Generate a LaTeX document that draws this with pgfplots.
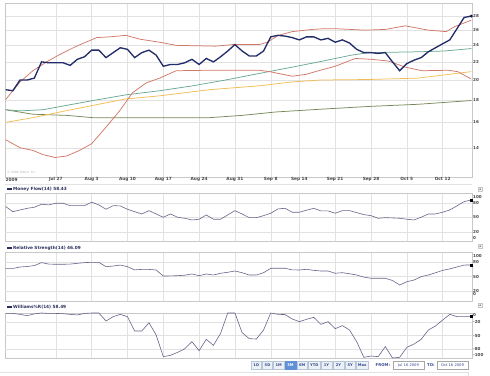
\documentclass[border=0pt]{standalone}
\usepackage{fontspec}
\setmainfont{DejaVu Sans}
\usepackage{pgfplots}
\pgfplotsset{compat=1.18}
\definecolor{gridc}{RGB}{226,226,226}
\definecolor{framec}{RGB}{200,200,200}
\definecolor{labc}{RGB}{70,70,70}
\definecolor{pricec}{RGB}{35,45,105}
\definecolor{bandc}{RGB}{210,120,105}
\definecolor{tealc}{RGB}{105,168,148}
\definecolor{orangec}{RGB}{242,188,85}
\definecolor{olivec}{RGB}{120,136,90}
\definecolor{indc}{RGB}{100,100,138}
\definecolor{titlec}{RGB}{40,45,90}
\definecolor{btnfill}{RGB}{236,241,248}
\definecolor{btnline}{RGB}{185,198,216}
\definecolor{btntext}{RGB}{55,75,140}
\definecolor{btnsel}{RGB}{95,145,215}
\newcommand\tkf{\fontsize{4.3}{4.8}\selectfont\bfseries}
\newcommand\ytf{\fontsize{4.1}{4.6}\selectfont\bfseries}
\pgfplotsset{
  panel/.style={
    anchor=south west, scale only axis, width=467bp,
    xmin=-0.1, xmax=65.1,
    axis line style={draw=framec, line width=0.4pt},
    xtick={7,12,17,22,27,32,37,41,46,51,56,61},
    xmajorgrids, grid style={draw=gridc, line width=0.4pt},
    major tick length=0pt,
    yticklabel pos=right,
    ticklabel style={font=\tkf, text=labc},
    yticklabel style={font=\ytf, anchor=west, inner sep=0.5pt, xshift=0.5bp},
    clip=false,
  },
  ind/.style={
    panel, xticklabels={}, ymin=0, ymax=100,
    extra y ticks={20,50,80}, extra y tick labels={},
    extra y tick style={grid=major},
  },
}
\begin{document}
\begin{tikzpicture}
\useasboundingbox (0,0) rectangle (490bp,376bp);
% ---------------- main price panel ----------------
\begin{axis}[panel, at={(5bp,199bp)}, height=174bp,
  ymode=log, ymin=12, ymax=30,
  ytick={14,16,18,20,22,24,26,28}, yticklabels={14,16,18,20,22,24,26,28},
  ymajorgrids,
  xticklabels={Jul 27,Aug 3,Aug 10,Aug 17,Aug 24,Aug 31,Sep 8,Sep 14,Sep 21,Sep 28,Oct 5,Oct 12},
  xticklabel style={inner sep=0.5pt, yshift=0.6bp}]
\addplot[olivec, line width=0.75pt] coordinates {(0,17.1)(3.8,16.7)(8.5,16.6)(12.2,16.4)(20,16.4)(28.4,16.4)(33,16.6)(37.7,16.9)(44,17.15)(50.7,17.4)(57.6,17.6)(65,17.95)};
\addplot[orangec, line width=0.75pt] coordinates {(0,16.0)(3.8,16.4)(7.6,16.9)(12.2,17.5)(16.8,18.1)(21.5,18.4)(28.4,19.0)(35.4,19.4)(40,19.8)(44,20.0)(50.7,20.05)(57.6,20.2)(65,20.9)};
\addplot[tealc, line width=0.75pt] coordinates {(0,17.1)(2,17.0)(5.2,17.1)(8.5,17.5)(12.2,17.95)(16.8,18.5)(21.5,18.9)(26.1,19.4)(30.7,20.0)(35.4,20.7)(40,21.4)(43.7,22.0)(48.3,22.8)(50.7,23.1)(57.6,23.2)(61.3,23.3)(65,23.6)};
\addplot[bandc, line width=0.75pt] coordinates {(0,18.05)(2,19.8)(3.8,21.0)(5.7,22.0)(7.6,22.9)(9.9,23.9)(12.7,25.0)(14.5,25.1)(16.8,25.3)(18.7,24.8)(21.5,24.4)(23.8,24.0)(29.3,23.9)(31.7,24.1)(35.4,24.1)(36.5,24.4)(38.1,25.3)(40,25.8)(42.8,26.1)(44.4,26.2)(46,26.2)(50.2,26.0)(53,26.1)(55.8,26.6)(59,26.0)(61.5,25.8)(62.7,26.5)(65,27.4)};
\addplot[bandc, line width=0.75pt] coordinates {(0,14.6)(2,14.0)(3.8,13.8)(5.2,13.5)(6.9,13.3)(8.5,13.4)(10.3,13.8)(12,14.3)(14,15.6)(15.9,17.0)(17.7,18.7)(19.6,19.7)(21.5,20.2)(23.8,21.0)(28.4,21.05)(35.4,21.05)(36.8,20.9)(40,20.4)(41.9,20.6)(43.7,21.0)(46,21.5)(48.8,22.4)(51.1,22.3)(53.4,22.1)(55.8,21.4)(58.1,21.0)(61.8,21.05)(63.1,20.9)(65,20.1)};
\addplot[pricec, line width=1.35pt] coordinates {
(0,19.0)(1,18.9)(2,20.0)(3,20.0)(4,20.2)(5,22.0)(6,21.9)(7,21.9)(8,21.9)(9,21.6)
(10,22.3)(11,22.6)(12,23.4)(13,23.4)(14,22.5)(15,23.1)(16,23.7)(17,23.5)(18,22.5)(19,23.1)
(20,23.4)(21,22.8)(22,21.5)(23,21.7)(24,21.7)(25,21.9)(26,22.3)(27,21.7)(28,22.4)(29,22.0)
(30,22.6)(31,23.3)(32,24.1)(33,23.3)(34,22.7)(35,22.7)(36,23.3)(37,25.1)(38,25.3)(39,25.2)
(40,25.0)(41,24.7)(42,25.1)(43,25.1)(44,24.7)(45,24.9)(46,24.4)(47,24.7)(48,24.3)(49,23.5)
(50,23.1)(51,23.1)(52,23.0)(53,23.1)(54,22.0)(55,21.0)(56,21.8)(57,22.2)(58,22.5)(59,23.2)
(60,23.7)(61,24.2)(62,24.7)(63,26.2)(64,27.8)(65,28.0)};
\addplot[only marks, mark=*, mark size=1.3pt, pricec!60!black] coordinates {(65,28.0)};
\node[anchor=north west, font=\tkf, text=labc, inner sep=0.5pt, yshift=-0.6bp] at (rel axis cs:0,0) {2009};
\node[anchor=south west, font=\fontsize{3}{3.5}\selectfont, text=black!30, inner sep=0.5pt] at (rel axis cs:0.003,0.015) {© 2009 Yahoo! Inc.};
\end{axis}
% ---------------- Money Flow ----------------
\begin{axis}[ind, at={(5bp,134.3bp)}, height=48.4bp,
  ytick={7.7,20,50,80,92.5}, yticklabels={0,20,50,80,100}]
\addplot[indc, line width=0.6pt] coordinates {
(0,72.5)(1,62)(2,65.6)(3,69)(4,71.2)(5,77.4)(6,76)(7,79.5)(8,79.5)(9,74.5)
(10,74.5)(11,74.5)(12,81.6)(13,76)(14,67)(15,74.5)(16,73.9)(17,67)(18,62)(19,57.3)
(20,64.2)(21,57.3)(22,50.5)(23,57.3)(24,50.5)(25,48.4)(26,44.9)(27,46.4)(28,55.3)(29,46.4)
(30,46.4)(31,55.3)(32,64.2)(33,57.3)(34,49.7)(35,49.7)(36,53.8)(37,58.8)(38,67.7)(39,69)
(40,60.9)(41,60.9)(42,65)(43,69)(44,63.6)(45,63.6)(46,58.8)(47,64.2)(48,64.2)(49,60)
(50,56)(51,53.8)(52,48.4)(53,49.7)(54,49.1)(55,48.4)(56,46.4)(57,44.9)(58,50.5)(59,57.3)
(60,57.3)(61,60.9)(62,65.6)(63,74)(64,82.8)(65,86.3)};
\addplot[only marks, mark=square*, mark size=1.1pt, black] coordinates {(65,86.3)};
\end{axis}
% ---------------- RSI ----------------
\begin{axis}[ind, at={(5bp,75.2bp)}, height=48.3bp,
  ytick={13.5,20.3,49.3,80.3,92.8}, yticklabels={0,20,50,80,100}]
\addplot[indc, line width=0.6pt] coordinates {
(0,67)(1,67)(2,70)(3,71)(4,73)(5,79)(6,76)(7,75.6)(8,75.6)(9,76)
(10,77.6)(11,79)(12,79.7)(13,79.7)(14,70.6)(15,72)(16,74)(17,70.6)(18,64)(19,65)
(20,65)(21,63.8)(22,51.3)(23,51.5)(24,52)(25,53)(26,55.5)(27,52)(28,55.5)(29,53.4)
(30,57)(31,59)(32,61.7)(33,58.2)(34,53.4)(35,53.4)(36,58.2)(37,67.3)(38,67.3)(39,67.3)
(40,64)(41,63.8)(42,65.2)(43,63)(44,61.7)(45,61.7)(46,57)(47,58.2)(48,56)(49,53.4)
(50,49)(51,46.6)(52,46.6)(53,46.6)(54,42)(55,32.7)(56,39.5)(57,43)(58,50)(59,53.4)
(60,58)(61,63)(62,66)(63,70)(64,74)(65,74.1)};
\addplot[only marks, mark=square*, mark size=1.1pt, black] coordinates {(65,74.1)};
\end{axis}
% ---------------- Williams %R ----------------
\begin{axis}[panel, at={(5bp,18bp)}, height=45bp, xticklabels={}, ymin=-100, ymax=0,
  ytick={-93,-80,-51,-20,-4.4}, yticklabels={-100,-80,-50,-20,0},
  extra y ticks={-80,-50,-20}, extra y tick labels={}, extra y tick style={grid=major}]
\addplot[indc, line width=0.6pt] coordinates {
(0,-1)(1,-1)(2,-3)(3,-6)(4,-2)(5,0)(6,-1)(7,-1)(8,-1.5)(9,-3)
(10,-4.4)(11,-1)(12,0)(13,0)(14,-17.8)(15,-8.2)(16,-3)(17,-8.2)(18,-40)(19,-40)
(20,-21.5)(21,-48.9)(22,-97)(23,-94)(24,-87.4)(25,-79.3)(26,-63.7)(27,-83.7)(28,-58.5)(29,-71.9)
(30,-45.2)(31,0)(32,0)(33,-43.7)(34,-57)(35,-57.8)(36,-37.8)(37,0)(38,-3)(39,-3.5)
(40,-13.3)(41,-19.3)(42,-14)(43,-9.6)(44,-25.2)(45,-19.3)(46,-34.8)(47,-28.1)(48,-37.8)(49,-63.7)
(50,-98.5)(51,-95.6)(52,-97)(53,-74.8)(54,-100)(55,-98.5)(56,-76.3)(57,-69)(58,-58.5)(59,-37.8)
(60,-28.9)(61,-15.6)(62,-3)(63,-8.2)(64,-8.2)(65,-8)};
\addplot[only marks, mark=square*, mark size=1.1pt, black] coordinates {(65,-8)};
\end{axis}
\begin{scope}[x=1bp,y=1bp]
% line under the date labels
\draw[gridc, line width=0.4pt] (5,192) -- (472,192);
% ---------------- panel titles ----------------
\foreach \yy/\ttl in {187/Money Flow(14) 58.43, 128/Relative Strength(14) 46.09, 69/Williams\%R(14) 58.49}{
  \fill[titlec] (7,\yy-0.7) rectangle (12,\yy+0.7);
  \node[anchor=west, font=\tkf, text=titlec, inner sep=0.5pt] at (12.5,\yy) {\ttl};
}
% small panel buttons on right
\foreach \yy in {187,130,71}{
  \draw[framec, fill=black!4, line width=0.3pt] (478,\yy-2.2) rectangle (482.4,\yy+2.2);
  \fill[black!45] (479.2,\yy-0.9) -- (481.2,\yy-0.9) -- (480.2,\yy+0.9) -- cycle;
}
\draw[gridc, line width=0.4pt] (0,4) -- (468,4) -- (468,0);
% ---------------- range buttons ----------------
\foreach \xa/\xb/\lab in {251/261.5/1D, 262.5/272.5/5D, 273.5/284/1M, 297/307.5/6M, 308.5/320/YTD, 321/332/1Y, 333/344/2Y, 345/355.5/5Y, 356.5/368/Max}{
  \draw[btnline, fill=btnfill, line width=0.3pt] (\xa,7) rectangle (\xb,14.5);
  \node[font=\fontsize{3.7}{4}\selectfont\bfseries, text=btntext, inner sep=0pt] at ({(\xa+\xb)/2},10.75) {\lab};
}
\draw[btnsel, fill=btnsel, line width=0.3pt] (285,7) rectangle (296,14.5);
\node[font=\fontsize{3.7}{4}\selectfont\bfseries, text=white, inner sep=0pt] at (290.5,10.75) {3M};
\node[anchor=west, font=\fontsize{3.9}{4}\selectfont\bfseries, text=btntext, inner sep=0pt] at (375.5,10.75) {FROM:};
\draw[black!35, fill=white, line width=0.3pt] (393,7) rectangle (424,14.5);
\node[font=\fontsize{3.7}{4}\selectfont, text=btntext, inner sep=0pt] at (408.5,10.75) {Jul 16 2009};
\node[anchor=west, font=\fontsize{3.9}{4}\selectfont\bfseries, text=btntext, inner sep=0pt] at (427,10.75) {TO:};
\draw[black!35, fill=white, line width=0.3pt] (437,7) rectangle (468,14.5);
\node[font=\fontsize{3.7}{4}\selectfont, text=btntext, inner sep=0pt] at (452.5,10.75) {Oct 16 2009};
\end{scope}
\end{tikzpicture}
\end{document}
